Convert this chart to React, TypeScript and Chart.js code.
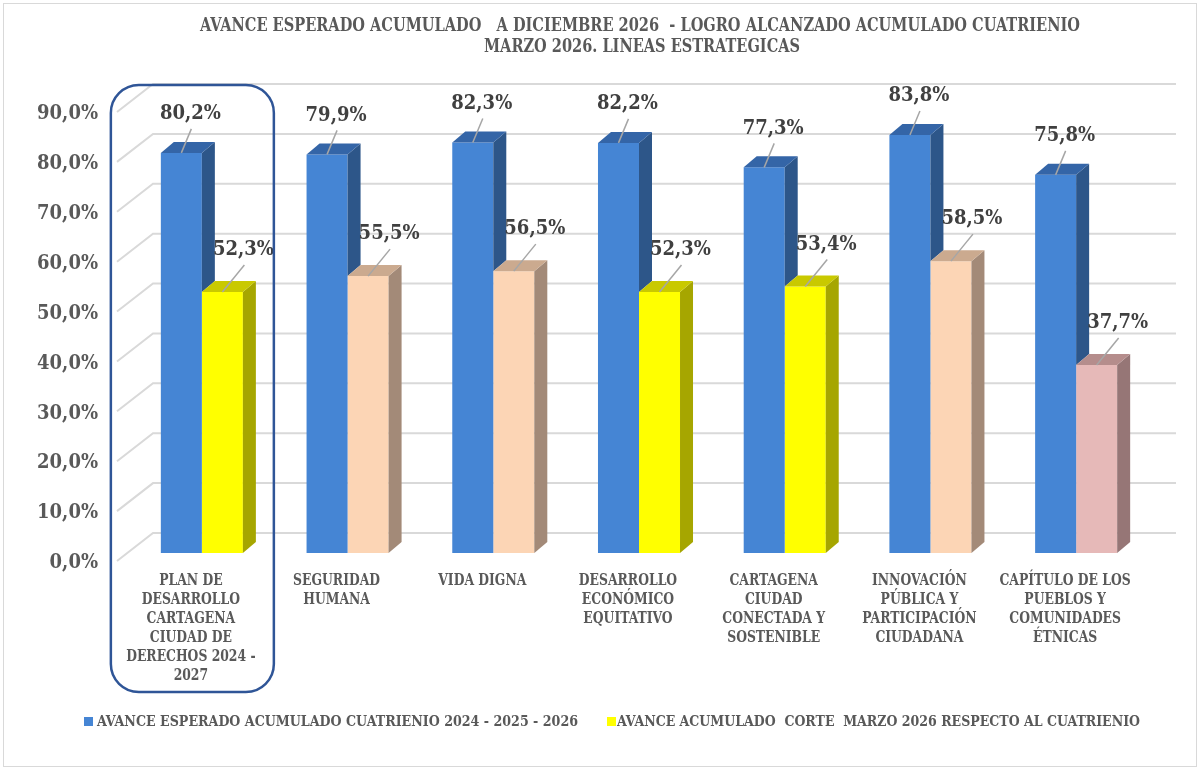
import React, { useEffect, useRef } from "react";
import { Chart, registerables } from "chart.js";

Chart.register(...registerables);

// ---------- data ----------
const TITLE_LINES = [
  "AVANCE ESPERADO ACUMULADO   A DICIEMBRE 2026  - LOGRO ALCANZADO ACUMULADO CUATRIENIO",
  "MARZO 2026. LINEAS ESTRATEGICAS",
];

const CATEGORIES: string[][] = [
  ["PLAN DE", "DESARROLLO", "CARTAGENA", "CIUDAD DE", "DERECHOS 2024 -", "2027"],
  ["SEGURIDAD", "HUMANA"],
  ["VIDA DIGNA"],
  ["DESARROLLO", "ECONÓMICO", "EQUITATIVO"],
  ["CARTAGENA", "CIUDAD", "CONECTADA Y", "SOSTENIBLE"],
  ["INNOVACIÓN", "PÚBLICA Y", "PARTICIPACIÓN", "CIUDADANA"],
  ["CAPÍTULO DE LOS", "PUEBLOS Y", "COMUNIDADES", "ÉTNICAS"],
];

const EXPECTED = [80.2, 79.9, 82.3, 82.2, 77.3, 83.8, 75.8];
const ACHIEVED = [52.3, 55.5, 56.5, 52.3, 53.4, 58.5, 37.7];

const SERIES_NAMES = [
  "AVANCE ESPERADO ACUMULADO CUATRIENIO 2024 - 2025 - 2026",
  "AVANCE ACUMULADO  CORTE  MARZO 2026 RESPECTO AL CUATRIENIO",
];

const Y_TICKS = [0, 10, 20, 30, 40, 50, 60, 70, 80, 90];

// ---------- styles ----------
const ACHIEVED_TONES = ["yellow", "peach", "peach", "yellow", "yellow", "peach", "pink"];

const PALETTE: Record<string, { front: string; side: string; top: string }> = {
  blue: { front: "#4585D4", side: "#2D5689", top: "#3465A7" },
  yellow: { front: "#FFFF00", side: "#A6A600", top: "#C9C900" },
  peach: { front: "#FCD5B5", side: "#A38A78", top: "#CBAA8F" },
  pink: { front: "#E6B9B8", side: "#967676", top: "#B58D8C" },
};

const FAMILY = "'DejaVu Serif Condensed', 'DejaVu Serif', serif";
const TEXT_GRAY = "#595959";
const LABEL_GRAY = "#404040";
const GRID = "#D9D9D9";
const DX = 13;
const DY = 11;

const fmt = (v: number) => v.toFixed(1).replace(".", ",") + "%";

const depthPlugin = {
  id: "depth3d",
  beforeDatasetsDraw(chart: any) {
    const { ctx, chartArea, scales } = chart;
    const ys = scales.y;
    ctx.save();
    ctx.strokeStyle = GRID;
    ctx.lineWidth = 2;
    const xFront = chartArea.left - 12;
    const xBack = chartArea.left + 24;
    const xEnd = chartArea.right + 27;
    Y_TICKS.forEach((v) => {
      const py = ys.getPixelForValue(v);
      ctx.beginPath();
      ctx.moveTo(xFront, py + 8);
      ctx.lineTo(xBack, py - 20);
      ctx.lineTo(xEnd, py - 20);
      ctx.stroke();
    });
    ctx.restore();
  },
  afterDatasetsDraw(chart: any) {
    const { ctx } = chart;
    const m0 = chart.getDatasetMeta(0);
    const m1 = chart.getDatasetMeta(1);
    ctx.save();
    m0.data.forEach((el0: any, j: number) => {
      const el1 = m1.data[j];
      const p0 = el0.getProps(["x", "y", "base", "width"], true);
      const p1 = el1.getProps(["x", "y", "base", "width"], true);
      const l0 = p0.x - p0.width / 2;
      const r0 = p0.x + p0.width / 2;
      const cut = Math.min(p0.base, p1.y);
      const c0 = PALETTE.blue;
      if (cut > p0.y) {
        ctx.fillStyle = c0.side;
        ctx.beginPath();
        ctx.moveTo(r0, p0.y);
        ctx.lineTo(r0 + DX, p0.y - DY);
        ctx.lineTo(r0 + DX, cut - DY);
        ctx.lineTo(r0, cut);
        ctx.closePath();
        ctx.fill();
      }
      ctx.fillStyle = c0.top;
      ctx.beginPath();
      ctx.moveTo(l0, p0.y);
      ctx.lineTo(l0 + DX, p0.y - DY);
      ctx.lineTo(r0 + DX, p0.y - DY);
      ctx.lineTo(r0, p0.y);
      ctx.closePath();
      ctx.fill();

      const c1 = PALETTE[ACHIEVED_TONES[j]];
      const l1 = p1.x - p1.width / 2;
      const r1 = p1.x + p1.width / 2;
      ctx.fillStyle = c1.side;
      ctx.beginPath();
      ctx.moveTo(r1, p1.y);
      ctx.lineTo(r1 + DX, p1.y - DY);
      ctx.lineTo(r1 + DX, p1.base - DY);
      ctx.lineTo(r1, p1.base);
      ctx.closePath();
      ctx.fill();
      ctx.fillStyle = c1.top;
      ctx.beginPath();
      ctx.moveTo(l1, p1.y);
      ctx.lineTo(l1 + DX, p1.y - DY);
      ctx.lineTo(r1 + DX, p1.y - DY);
      ctx.lineTo(r1, p1.y);
      ctx.closePath();
      ctx.fill();
    });

    // data labels with leader lines
    const offsets = [
      { dx: 9, dy: -39 },
      { dx: 21, dy: -42 },
    ];
    [m0, m1].forEach((meta: any, di: number) => {
      const values = di === 0 ? EXPECTED : ACHIEVED;
      meta.data.forEach((el: any, j: number) => {
        const p = el.getProps(["x", "y"], true);
        const lx = p.x + offsets[di].dx;
        const ly = p.y + offsets[di].dy;
        ctx.strokeStyle = "#A6A6A6";
        ctx.lineWidth = 1.5;
        ctx.beginPath();
        ctx.moveTo(p.x, p.y);
        ctx.lineTo(lx + 1, ly + 15);
        ctx.stroke();
        ctx.fillStyle = LABEL_GRAY;
        ctx.font = `bold 20px ${FAMILY}`;
        ctx.textAlign = "center";
        ctx.textBaseline = "middle";
        ctx.fillText(fmt(values[j]), lx, ly);
      });
    });
    ctx.restore();
  },
  afterDraw(chart: any) {
    const { ctx, chartArea, scales } = chart;
    const xs = scales.x;
    const ys = scales.y;
    ctx.save();
    // outer frame
    ctx.strokeStyle = GRID;
    ctx.lineWidth = 1;
    ctx.strokeRect(3.5, 3.5, chart.width - 5, chart.height - 6);

    // title
    ctx.fillStyle = TEXT_GRAY;
    ctx.font = `bold 19px ${FAMILY}`;
    ctx.textAlign = "center";
    ctx.textBaseline = "middle";
    const cx = (chartArea.left + chartArea.right) / 2 + 1;
    ctx.fillText(TITLE_LINES[0], cx, 26, 880);
    ctx.fillText(TITLE_LINES[1], cx + 2, 47, 316);

    // category labels (x axis)
    ctx.font = `bold 16px ${FAMILY}`;
    ctx.fillStyle = TEXT_GRAY;
    ctx.textAlign = "center";
    ctx.textBaseline = "middle";
    const labels = xs.getLabels();
    labels.forEach((lines: string[], i: number) => {
      const lx = xs.getPixelForValue(i) - 11;
      lines.forEach((t: string, k: number) => {
        ctx.save();
        ctx.translate(lx, chartArea.bottom + 28 + k * 19);
        ctx.scale(0.86, 1);
        ctx.fillText(t, 0, 0);
        ctx.restore();
      });
    });

    // highlight box around first category
    const c0 = xs.getPixelForValue(0);
    const top = ys.getPixelForValue(90) - 19;
    const bx = c0 - 91;
    const bw = 163;
    const bh = 692 - top;
    ctx.strokeStyle = "#2F5597";
    ctx.lineWidth = 2.5;
    ctx.beginPath();
    ctx.roundRect(bx, top, bw, bh, 28);
    ctx.stroke();

    // legend
    ctx.font = `bold 15px ${FAMILY}`;
    ctx.textAlign = "left";
    ctx.textBaseline = "middle";
    ctx.fillStyle = PALETTE.blue.front;
    ctx.fillRect(84, 717, 9, 9);
    ctx.fillStyle = TEXT_GRAY;
    ctx.fillText(SERIES_NAMES[0], 97, 722, 481);
    ctx.fillStyle = PALETTE.yellow.front;
    ctx.fillRect(607, 717, 9, 9);
    ctx.fillStyle = TEXT_GRAY;
    ctx.fillText(SERIES_NAMES[1], 617, 722, 523);
    ctx.restore();
  },
};

export default function App() {
  const ref = useRef<HTMLCanvasElement | null>(null);

  useEffect(() => {
    if (!ref.current) return;
    const chart = new Chart(ref.current, {
      type: "bar",
      data: {
        labels: CATEGORIES,
        datasets: [
          {
            label: SERIES_NAMES[0],
            data: EXPECTED,
            backgroundColor: PALETTE.blue.front,
            borderWidth: 0,
            categoryPercentage: 0.563,
            barPercentage: 1,
          },
          {
            label: SERIES_NAMES[1],
            data: ACHIEVED,
            backgroundColor: ACHIEVED_TONES.map((t) => PALETTE[t].front),
            borderWidth: 0,
            categoryPercentage: 0.563,
            barPercentage: 1,
          },
        ],
      },
      options: {
        responsive: false,
        animation: false,
        events: [],
        layout: { padding: { left: 29, right: 49, top: 104, bottom: 66 } },
        plugins: {
          legend: { display: false },
          title: { display: false },
          tooltip: { enabled: false },
        },
        scales: {
          x: {
            grid: { display: false, drawTicks: false },
            border: { display: false },
            ticks: { display: false },
            afterFit: (s: any) => {
              s.height = 150;
            },
          },
          y: {
            min: 0,
            max: 90,
            grid: { display: false, drawTicks: false },
            border: { display: false },
            ticks: {
              stepSize: 10,
              padding: 31,
              labelOffset: 10,
              color: TEXT_GRAY,
              font: { family: FAMILY, size: 20, weight: "bold" },
              callback: (v: any) => fmt(Number(v)),
            },
            afterBuildTicks: (s: any) => {
              s.ticks = Y_TICKS.map((v) => ({ value: v }));
            },
            afterFit: (s: any) => {
              s.width = 100;
            },
          },
        },
      },
      plugins: [depthPlugin],
    } as any);
    return () => chart.destroy();
  }, []);

  return (
    <canvas
      ref={ref}
      width={1198}
      height={769}
      style={{ position: "absolute", left: 0, top: 0, display: "block", background: "#ffffff" }}
    />
  );
}
